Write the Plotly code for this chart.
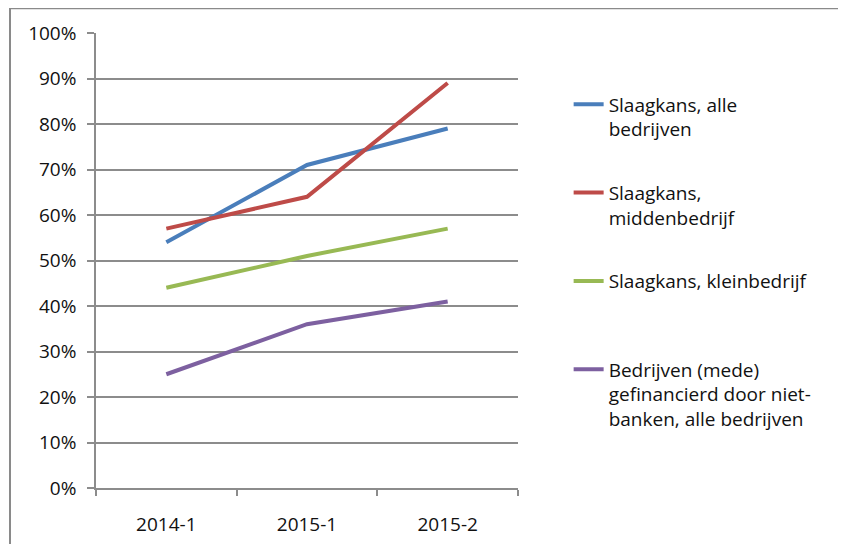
import plotly.graph_objects as go

categories = ["2014-1", "2015-1", "2015-2"]
series_names = [
    "Slaagkans, alle<br>bedrijven",
    "Slaagkans,<br>middenbedrijf",
    "Slaagkans, kleinbedrijf<br> ",
    "Bedrijven (mede)<br>gefinancierd door niet-<br>banken, alle bedrijven",
]
alle = [0.54, 0.71, 0.79]
midden = [0.57, 0.64, 0.89]
klein = [0.44, 0.51, 0.57]
nietbanken = [0.25, 0.36, 0.41]
colors = ["#4A7EBB", "#BE4B48", "#98B954", "#7D60A0"]
y_ticks = [i / 10 for i in range(11)]
y_tick_labels = [f"{i*10}%" for i in range(11)]

FONT = "Open Sans"
fig = go.Figure()
for i, (name, vals) in enumerate(zip(series_names, [alle, midden, klein, nietbanken])):
    fig.add_trace(go.Scatter(
        x=categories, y=vals, name=name, mode="lines",
        line=dict(color=colors[i], width=4),
        legendgroup=f"g{i}",
    ))

grid = "#8C8C8C"
fig.update_layout(
    width=846, height=544,
    margin=dict(l=88, r=336, t=22, b=64),
    paper_bgcolor="white", plot_bgcolor="white",
    font=dict(family=FONT, size=19, color="#111111"),
    showlegend=True,
    legend=dict(
        x=1.12, y=0.885, xanchor="left", yanchor="top",
        valign="top", tracegroupgap=36,
        font=dict(family=FONT, size=19, color="#111111"),
        bgcolor="rgba(0,0,0,0)",
    ),
    xaxis=dict(
        type="category", range=[-0.5, 2.5], tickson="boundaries",
        ticks="outside", ticklen=6, tickcolor=grid, tickwidth=1.5,
        showline=True, linecolor=grid, linewidth=1.5,
        showgrid=False, zeroline=False, fixedrange=True,
        tickfont=dict(size=19), ticklabelstandoff=18,
    ),
    yaxis=dict(
        range=[0, 1], tickvals=y_ticks, ticktext=y_tick_labels,
        ticks="outside", ticklen=7, tickcolor=grid, tickwidth=1.5,
        showline=True, linecolor=grid, linewidth=1.5,
        showgrid=True, gridcolor=grid, gridwidth=1.5,
        zeroline=False, fixedrange=True, ticklabelstandoff=7,
        tickfont=dict(size=19),
    ),
)

# outer chart border (left, top, right edges; bottom is cut off)
bx0 = (10 - 96) / 422
bx1 = (840 - 96) / 422
by1 = (489 - 6) / 458
by0 = (489 - 560) / 458
fig.add_shape(type="path", xref="paper", yref="paper",
              path=f"M {bx0} {by0} L {bx0} {by1} L {bx1} {by1} L {bx1} {by0}",
              line=dict(color="#8A8A8A", width=2), layer="below")

fig.write_html("out.html")
